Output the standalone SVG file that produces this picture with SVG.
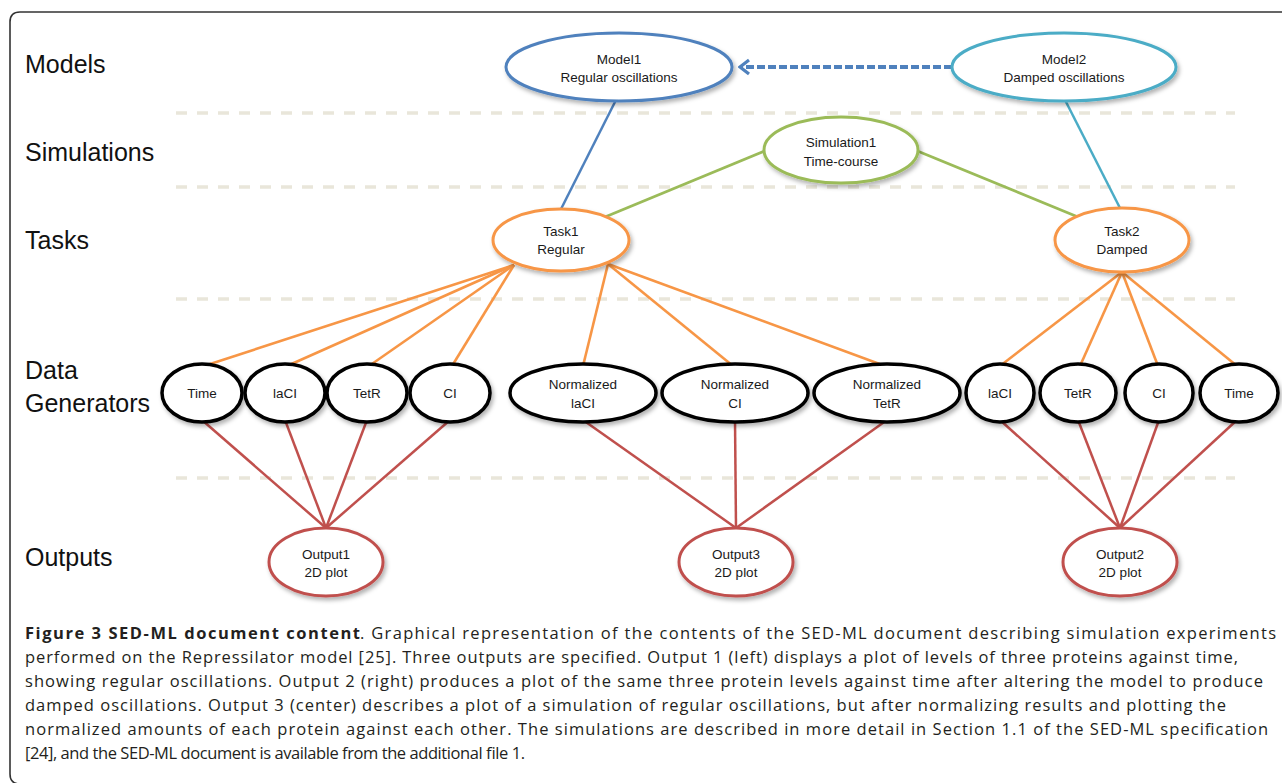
<svg xmlns="http://www.w3.org/2000/svg" width="1282" height="783" viewBox="0 0 1282 783">
<style>
.row{font-family:"Liberation Sans",Arial,sans-serif;font-size:25px;fill:#111}
.lbl{font-family:"Liberation Sans",Arial,sans-serif;font-size:13.5px;fill:#1a1a1a;text-anchor:middle}
.cap{font-family:"Open Sans","Noto Sans","Liberation Sans",sans-serif;font-size:16.5px;fill:#231f20}
.capb{font-family:"Open Sans","Noto Sans","Liberation Sans",sans-serif;font-size:16.5px;font-weight:bold;fill:#231f20}
.sep{stroke:#e9e6da;stroke-width:3.5;stroke-dasharray:11 10;fill:none}
.node{fill:#fff;filter:url(#sh)}
.blue{stroke:#4f81bd;stroke-width:3}
.teal{stroke:#4bacc6;stroke-width:3}
.green{stroke:#9bbb59;stroke-width:3}
.orange{stroke:#f79646;stroke-width:3}
.black{stroke:#000;stroke-width:3.5}
.red{stroke:#c0504d;stroke-width:3}
.co{stroke:#f79646;stroke-width:2.6;fill:none}
.cr{stroke:#c0504d;stroke-width:2.5;fill:none}
</style>
<defs>
<filter id="sh" x="-20%" y="-20%" width="150%" height="160%">
<feDropShadow dx="2" dy="3" stdDeviation="2" flood-color="#000" flood-opacity="0.3"/>
</filter>
<marker id="chev" markerUnits="userSpaceOnUse" viewBox="0 0 14 18" markerWidth="14" markerHeight="18" refX="12" refY="9" orient="auto">
<path d="M3,2 L12,9 L3,16" fill="none" stroke="#4f81bd" stroke-width="3.2" stroke-linejoin="miter"/>
</marker>
</defs>
<rect width="1282" height="783" fill="#fff"/>
<path d="M1290,12 L20,12 Q10,12 10,22 L10,774 Q10,784 20,784 L1290,784" fill="none" stroke="#333" stroke-width="1.6"/>

<g id="row-labels">
<text class="row" x="25" y="73">Models</text>
<text class="row" x="25" y="161">Simulations</text>
<text class="row" x="25" y="249">Tasks</text>
<text class="row" x="25" y="379">Data</text>
<text class="row" x="25" y="412">Generators</text>
<text class="row" x="25" y="566">Outputs</text>
</g>

<g id="separators">
<line class="sep" x1="176" y1="113" x2="1235" y2="113"/>
<line class="sep" x1="176" y1="187" x2="1235" y2="187"/>
<line class="sep" x1="176" y1="299" x2="1235" y2="299"/>
<line class="sep" x1="176" y1="478" x2="1235" y2="478"/>
</g>

<g id="connectors">
<line x1="952" y1="67" x2="740" y2="67" stroke="#4f81bd" stroke-width="4" stroke-dasharray="8 3" marker-end="url(#chev)"/>
<line x1="618" y1="96" x2="558" y2="215" stroke="#4f81bd" stroke-width="2.5"/>
<line x1="1063" y1="96" x2="1122" y2="212" stroke="#4bacc6" stroke-width="2.5"/>
<line x1="767" y1="150" x2="605" y2="217" stroke="#9bbb59" stroke-width="2.8"/>
<line x1="915" y1="150" x2="1078" y2="217" stroke="#9bbb59" stroke-width="2.8"/>
<line class="co" x1="514" y1="265" x2="204" y2="366" stroke-width="3.4"/>
<line class="co" x1="514" y1="265" x2="287" y2="366"/>
<line class="co" x1="514" y1="265" x2="369" y2="366"/>
<line class="co" x1="514" y1="265" x2="452" y2="366"/>
<line class="co" x1="608" y1="264" x2="583" y2="366"/>
<line class="co" x1="608" y1="264" x2="733" y2="366"/>
<line class="co" x1="608" y1="264" x2="885" y2="366" stroke-width="3.2"/>
<line class="co" x1="1122" y1="272" x2="1000" y2="366"/>
<line class="co" x1="1122" y1="272" x2="1080" y2="366"/>
<line class="co" x1="1122" y1="272" x2="1158" y2="366"/>
<line class="co" x1="1122" y1="272" x2="1237" y2="366"/>
<line class="cr" x1="202" y1="420" x2="326" y2="528"/>
<line class="cr" x1="285" y1="420" x2="326" y2="528"/>
<line class="cr" x1="367" y1="420" x2="326" y2="528"/>
<line class="cr" x1="450" y1="420" x2="326" y2="528"/>
<line class="cr" x1="583" y1="420" x2="736" y2="528"/>
<line class="cr" x1="735" y1="420" x2="736" y2="528"/>
<line class="cr" x1="887" y1="420" x2="736" y2="528"/>
<line class="cr" x1="1000" y1="420" x2="1120" y2="528"/>
<line class="cr" x1="1078" y1="420" x2="1120" y2="528"/>
<line class="cr" x1="1159" y1="420" x2="1120" y2="528"/>
<line class="cr" x1="1237" y1="420" x2="1120" y2="528"/>
</g>

<g id="model1"><ellipse class="node blue" cx="619" cy="67" rx="113" ry="34"/><text class="lbl" x="619" y="64">Model1</text><text class="lbl" x="619" y="82">Regular oscillations</text></g>
<g id="model2"><ellipse class="node teal" cx="1064" cy="67" rx="112" ry="34"/><text class="lbl" x="1064" y="64">Model2</text><text class="lbl" x="1064" y="82">Damped oscillations</text></g>
<g id="simulation1"><ellipse class="node green" cx="841" cy="150" rx="77" ry="33"/><text class="lbl" x="841" y="147">Simulation1</text><text class="lbl" x="841" y="166">Time-course</text></g>
<g id="task1"><ellipse class="node orange" cx="561" cy="240" rx="68" ry="31"/><text class="lbl" x="561" y="236">Task1</text><text class="lbl" x="561" y="254">Regular</text></g>
<g id="task2"><ellipse class="node orange" cx="1122" cy="240" rx="67" ry="32"/><text class="lbl" x="1122" y="236">Task2</text><text class="lbl" x="1122" y="254">Damped</text></g>

<g id="dg-time1"><ellipse class="node black" cx="202" cy="393" rx="40" ry="29"/><text class="lbl" x="202" y="398">Time</text></g>
<g id="dg-laci1"><ellipse class="node black" cx="285" cy="393" rx="40" ry="29"/><text class="lbl" x="285" y="398">laCI</text></g>
<g id="dg-tetr1"><ellipse class="node black" cx="367" cy="393" rx="40" ry="29"/><text class="lbl" x="367" y="398">TetR</text></g>
<g id="dg-ci1"><ellipse class="node black" cx="450" cy="393" rx="40" ry="29"/><text class="lbl" x="450" y="398">CI</text></g>
<g id="dg-nlaci"><ellipse class="node black" cx="583" cy="393" rx="73" ry="29"/><text class="lbl" x="583" y="389">Normalized</text><text class="lbl" x="583" y="408">laCI</text></g>
<g id="dg-nci"><ellipse class="node black" cx="735" cy="393" rx="73" ry="29"/><text class="lbl" x="735" y="389">Normalized</text><text class="lbl" x="735" y="408">CI</text></g>
<g id="dg-ntetr"><ellipse class="node black" cx="887" cy="393" rx="73" ry="29"/><text class="lbl" x="887" y="389">Normalized</text><text class="lbl" x="887" y="408">TetR</text></g>
<g id="dg-laci2"><ellipse class="node black" cx="1000" cy="393" rx="34" ry="29"/><text class="lbl" x="1000" y="398">laCI</text></g>
<g id="dg-tetr2"><ellipse class="node black" cx="1078" cy="393" rx="38" ry="29"/><text class="lbl" x="1078" y="398">TetR</text></g>
<g id="dg-ci2"><ellipse class="node black" cx="1159" cy="393" rx="34" ry="29"/><text class="lbl" x="1159" y="398">CI</text></g>
<g id="dg-time2"><ellipse class="node black" cx="1239" cy="393" rx="39" ry="29"/><text class="lbl" x="1239" y="398">Time</text></g>

<g id="output1"><ellipse class="node red" cx="326" cy="562" rx="57" ry="34"/><text class="lbl" x="326" y="559">Output1</text><text class="lbl" x="326" y="577">2D plot</text></g>
<g id="output3"><ellipse class="node red" cx="736" cy="562" rx="57" ry="34"/><text class="lbl" x="736" y="559">Output3</text><text class="lbl" x="736" y="577">2D plot</text></g>
<g id="output2"><ellipse class="node red" cx="1120" cy="562" rx="57" ry="34"/><text class="lbl" x="1120" y="559">Output2</text><text class="lbl" x="1120" y="577">2D plot</text></g>

<g id="caption">
<text class="capb" x="25" y="639" textLength="335" lengthAdjust="spacing">Figure 3 SED-ML document content</text>
<text class="cap" x="360" y="639" textLength="916" lengthAdjust="spacing">. Graphical representation of the contents of the SED-ML document describing simulation experiments</text>
<text class="cap" x="25" y="663" textLength="1213" lengthAdjust="spacing">performed on the Repressilator model [25]. Three outputs are specified. Output 1 (left) displays a plot of levels of three proteins against time,</text>
<text class="cap" x="25" y="687" textLength="1238" lengthAdjust="spacing">showing regular oscillations. Output 2 (right) produces a plot of the same three protein levels against time after altering the model to produce</text>
<text class="cap" x="25" y="711" textLength="1201" lengthAdjust="spacing">damped oscillations. Output 3 (center) describes a plot of a simulation of regular oscillations, but after normalizing results and plotting the</text>
<text class="cap" x="25" y="735" textLength="1243" lengthAdjust="spacing">normalized amounts of each protein against each other. The simulations are described in more detail in Section 1.1 of the SED-ML specification</text>
<text class="cap" x="25" y="759" textLength="500" lengthAdjust="spacing">[24], and the SED-ML document is available from the additional file 1.</text>
</g>
</svg>
